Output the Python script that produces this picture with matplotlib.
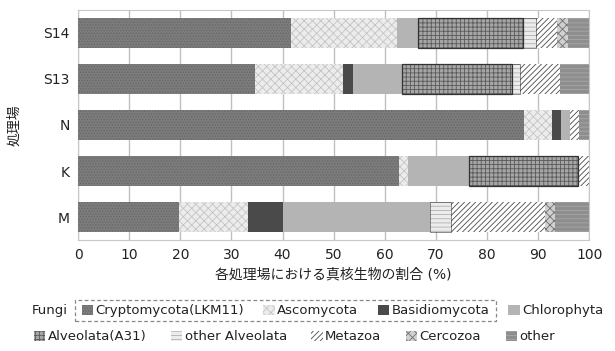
import matplotlib
matplotlib.use('Agg')
import matplotlib.pyplot as plt
import matplotlib.patches as mpatches
import numpy as np

plt.rcParams['font.family'] = ['DejaVu Sans', 'Noto Sans CJK JP']
plt.rcParams['hatch.linewidth'] = 0.6

# treatment sites, bottom to top
sites = ['M', 'K', 'N', 'S13', 'S14']
groups = ['Cryptomycota(LKM11)', 'Ascomycota', 'Basidiomycota', 'Chlorophyta',
          'Alveolata(A31)', 'other Alveolata', 'Metazoa', 'Cercozoa', 'other']

# percentages per group, order follows sites
cryptomycota = [19.8, 62.8, 87.3, 34.6, 41.7]
ascomycota = [13.5, 1.7, 5.4, 17.3, 20.7]
basidiomycota = [6.7, 0.0, 1.8, 1.9, 0.0]
chlorophyta = [28.8, 12.0, 1.7, 9.5, 4.2]
alveolata_a31 = [0.0, 21.4, 0.0, 21.6, 20.4]
other_alveolata = [4.2, 0.0, 0.0, 1.5, 2.5]
metazoa = [18.4, 2.1, 1.9, 7.8, 4.2]
cercozoa = [1.9, 0.0, 0.0, 0.0, 2.1]
other = [6.7, 0.0, 1.9, 5.8, 4.2]

series = [cryptomycota, ascomycota, basidiomycota, chlorophyta, alveolata_a31,
          other_alveolata, metazoa, cercozoa, other]

# grey-scale fills and textures
faces = ['#7c7c7c', '#ececec', '#4a4a4a', '#b4b4b4', '#a6a6a6',
         '#ececec', '#ffffff', '#d0d0d0', '#8e8e8e']
hatch_cols = ['#666666', '#c4c4c4', '#3a3a3a', '#b4b4b4', '#5a5a5a',
              '#b0b0b0', '#4a4a4a', '#707070', '#a8a8a8']
hatches = ['......', 'xxxx', '', '', '++++', '----', '//////', 'xxxx', '----']
outline = [0, 0, 0, 0, 0.9, 0.4, 0, 0, 0]

fig = plt.figure(figsize=(6.15, 3.51), dpi=100)
ax = fig.add_axes([0.127, 0.316, 0.831, 0.656])

y = np.arange(len(sites))
left = np.zeros(len(sites))
handles = []
for vals, name, fc, hc, h, lw in zip(series, groups, faces, hatch_cols, hatches, outline):
    vals = np.array(vals)
    bars = ax.barh(y, vals, left=left, height=0.65, color=fc, edgecolor=hc,
                   hatch=h, linewidth=0, zorder=3, label=name)
    if lw:
        for b in bars:
            if b.get_width() > 0:
                ax.add_patch(mpatches.Rectangle(b.get_xy(), b.get_width(), b.get_height(),
                                                fill=False, edgecolor='#333333',
                                                linewidth=lw, zorder=4))
    left += vals
    handles.append(mpatches.Patch(facecolor=fc, edgecolor=hc, hatch=h, linewidth=0))

ax.set_xlim(0, 100)
ax.set_ylim(-0.5, len(sites) - 0.5)
ax.set_xticks(np.arange(0, 101, 10))
ax.set_yticks(y)
ax.set_yticklabels(sites)
ax.tick_params(length=0, labelsize=10, colors='#222222', pad=6)
ax.xaxis.grid(True, color='#c0c0c0', linewidth=1, zorder=0)
for s in ax.spines.values():
    s.set_color('#c8c8c8')
ax.set_xlabel('各処理場における真核生物の割合 (%)', fontsize=10, color='#222222', labelpad=4)
ax.set_ylabel('処理場', fontsize=10, color='#222222')
ax.yaxis.set_label_coords(-0.112, 0.5)

fig.text(0.052, 0.114, 'Fungi', fontsize=9.5, va='center', ha='left', color='#222222')
leg_kw = dict(frameon=False, fontsize=9.5, handlelength=0.85, handleheight=0.85,
              handletextpad=0.2, borderpad=0, borderaxespad=0)
leg1 = fig.legend(handles[:4], groups[:4], ncol=4, loc='center left', columnspacing=1.45,
                  bbox_to_anchor=(0.133, 0.114), **leg_kw)
leg2 = fig.legend(handles[4:], groups[4:], ncol=5, loc='center left', columnspacing=1.85,
                  bbox_to_anchor=(0.055, 0.040), **leg_kw)
for t in leg1.get_texts() + leg2.get_texts():
    t.set_color('#222222')

# dashed frame around the three fungi entries
fig.canvas.draw()
r = fig.canvas.get_renderer()
boxes = [leg1.legend_handles[i].get_window_extent(r) for i in range(3)]
boxes += [leg1.get_texts()[i].get_window_extent(r) for i in range(3)]
x0 = min(b.x0 for b in boxes) - 7
x1 = max(b.x1 for b in boxes) + 7
y0 = min(b.y0 for b in boxes) - 4
y1 = max(b.y1 for b in boxes) + 4
W, H = fig.bbox.width, fig.bbox.height
fig.patches.append(mpatches.Rectangle((x0 / W, y0 / H), (x1 - x0) / W, (y1 - y0) / H,
                                      transform=fig.transFigure, fill=False,
                                      edgecolor='#888888', linestyle=(0, (3, 2)),
                                      linewidth=0.9))

fig.savefig('out.png', dpi=100)
